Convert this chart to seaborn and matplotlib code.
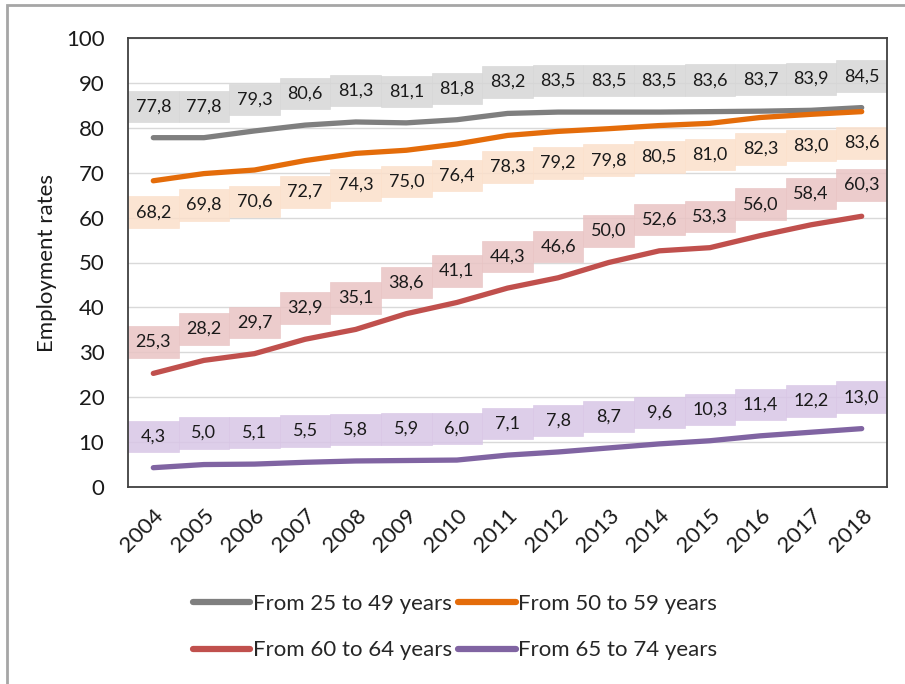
import matplotlib
matplotlib.use("Agg")
import matplotlib.pyplot as plt
from matplotlib.patches import Rectangle
import seaborn as sns
import pandas as pd

years = list(range(2004, 2019))
series_names = ["From 25 to 49 years", "From 50 to 59 years",
                "From 60 to 64 years", "From 65 to 74 years"]
rate_25_49 = [77.8, 77.8, 79.3, 80.6, 81.3, 81.1, 81.8, 83.2, 83.5, 83.5, 83.5, 83.6, 83.7, 83.9, 84.5]
rate_50_59 = [68.2, 69.8, 70.6, 72.7, 74.3, 75.0, 76.4, 78.3, 79.2, 79.8, 80.5, 81.0, 82.3, 83.0, 83.6]
rate_60_64 = [25.3, 28.2, 29.7, 32.9, 35.1, 38.6, 41.1, 44.3, 46.6, 50.0, 52.6, 53.3, 56.0, 58.4, 60.3]
rate_65_74 = [4.3, 5.0, 5.1, 5.5, 5.8, 5.9, 6.0, 7.1, 7.8, 8.7, 9.6, 10.3, 11.4, 12.2, 13.0]

colors = ["#7f7f7f", "#e46c0a", "#c0504d", "#8064a2"]
box_colors = ["#d6d6d6", "#fbe0cb", "#e9c4c4", "#d8c6e6"]
label_offset = [7.0, -7.0, 7.0, 7.0]   # data labels above / below the line
box_height = 7.0

sns.set_theme(style="white")
plt.rcParams["font.family"] = ["Lato", "DejaVu Sans"]

values = [rate_25_49, rate_50_59, rate_60_64, rate_65_74]
df = pd.DataFrame({
    "year": years * 4,
    "rate": sum(values, []),
    "group": sum([[n] * len(years) for n in series_names], []),
})

fig = plt.figure(figsize=(9.05, 6.84), dpi=100)
ax = fig.add_axes([128 / 905, 1 - 487 / 684, (887 - 128) / 905, (487 - 38) / 684])

# outer chart frame
fig.patches.append(Rectangle((7 / 905, -0.1), 1.2, 679 / 684 + 0.1,
                             transform=fig.transFigure, fill=False,
                             edgecolor="#a6a6a6", linewidth=2, zorder=0))

ax.set_axisbelow(True)
ax.yaxis.grid(True, color="#d9d9d9", linewidth=1)
ax.xaxis.grid(False)

sns.lineplot(data=df, x="year", y="rate", hue="group", hue_order=series_names,
             palette=colors, linewidth=3.8, ax=ax, legend=True,
             solid_capstyle="round", zorder=3)

# data label boxes (semi-transparent so the gridlines show through)
for vals, bcol, off in zip(values, box_colors, label_offset):
    centers = [v + off for v in vals]
    ax.bar(years, [box_height] * len(years),
           bottom=[c - box_height / 2 for c in centers], width=1.0,
           color=bcol, alpha=0.85, edgecolor=bcol, linewidth=0.5, zorder=2)
    for x, v, c in zip(years, vals, centers):
        ax.text(x, c, f"{v:.1f}".replace(".", ","), ha="center", va="center",
                fontsize=13, color="#1a1a1a", zorder=4)

ax.set_xlim(2003.5, 2018.5)
ax.set_ylim(0, 100)
ax.set_yticks(range(0, 101, 10))
ax.set_xticks(years)
ax.set_xticklabels([str(y) for y in years], rotation=45, ha="right",
                   rotation_mode="anchor", fontsize=16, color="#1a1a1a")
ax.tick_params(axis="y", labelsize=16, labelcolor="#1a1a1a", length=0, pad=17)
ax.tick_params(axis="x", length=0, pad=13)
ax.set_xlabel("")
ax.set_ylabel("Employment rates", fontsize=16, color="#1a1a1a", labelpad=6)

for s in ax.spines.values():
    s.set_visible(True)
    s.set_color("#404040")
    s.set_linewidth(1.3)

handles, labels = ax.get_legend_handles_labels()
ax.get_legend().remove()
order = [0, 2, 1, 3]
leg = fig.legend([handles[i] for i in order], [labels[i] for i in order],
                 loc="center", bbox_to_anchor=(455 / 905, 1 - 627 / 684),
                 ncol=2, frameon=False, fontsize=16, handlelength=2.6,
                 handletextpad=0.1, columnspacing=0.3, labelspacing=1.2)
for line in leg.get_lines():
    line.set_linewidth(4.5)
    line.set_solid_capstyle("round")

fig.savefig("out.png", dpi=100)
